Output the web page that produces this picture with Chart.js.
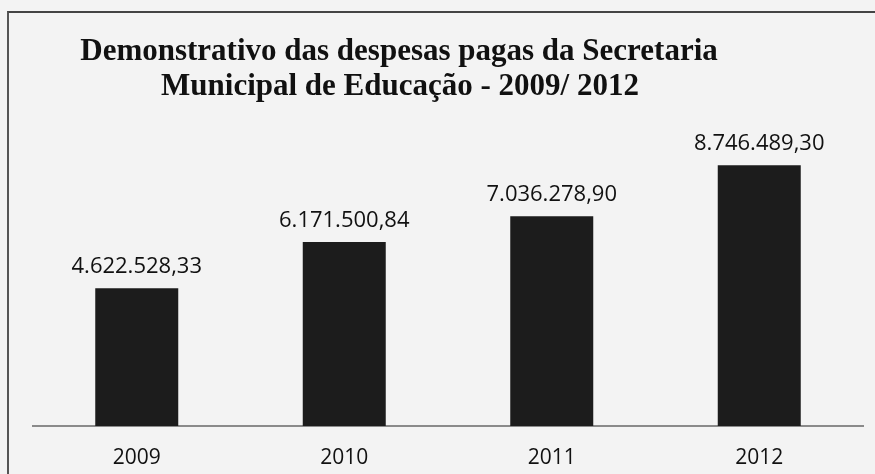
<!DOCTYPE html>
<html>
<head>
<meta charset="utf-8">
<script src="https://cdn.jsdelivr.net/npm/chart.js@4.4.1/dist/chart.umd.min.js"></script>
<style>
  html, body { margin: 0; padding: 0; background: #f3f3f3; }
  #wrap { position: relative; width: 875px; height: 474px; overflow: hidden; }
  #frame { position: absolute; left: 7px; top: 11px; width: 900px; height: 500px;
           border-left: 2px solid #555; border-top: 2px solid #444; pointer-events: none; }
  canvas { position: absolute; left: 0; top: 0; }
</style>
</head>
<body>
<div id="wrap">
  <canvas id="c" width="875" height="474"></canvas>
  <div id="frame"></div>
</div>
<script>
const categories = ['2009', '2010', '2011', '2012'];
const values = [4622528.33, 6171500.84, 7036278.90, 8746489.30];
const titleLines = ['Demonstrativo das despesas pagas da Secretaria', 'Municipal de Educação - 2009/ 2012'];
const yMax = 10000000;

function formatBR(v) {
  const parts = v.toFixed(2).split('.');
  const intPart = parts[0].replace(/\B(?=(\d{3})+(?!\d))/g, '.');
  return intPart + ',' + parts[1];
}

const titlePlugin = {
  id: 'customTitle',
  afterDraw(chart) {
    const ctx = chart.ctx;
    ctx.save();
    ctx.fillStyle = '#111';
    ctx.font = 'bold 31px "Liberation Serif", "Times New Roman", serif';
    ctx.textAlign = 'center';
    ctx.textBaseline = 'alphabetic';
    ctx.fillText(titleLines[0], 399, 60);
    ctx.fillText(titleLines[1], 400, 95);
    ctx.restore();
  }
};

const valueLabelPlugin = {
  id: 'valueLabels',
  afterDatasetsDraw(chart) {
    const ctx = chart.ctx;
    const meta = chart.getDatasetMeta(0);
    ctx.save();
    ctx.fillStyle = '#111';
    ctx.font = '22px "Open Sans", sans-serif';
    ctx.textAlign = 'center';
    ctx.textBaseline = 'alphabetic';
    meta.data.forEach((bar, i) => {
      ctx.fillText(formatBR(values[i]), bar.x, bar.y - 15);
    });
    ctx.restore();
  }
};

new Chart(document.getElementById('c'), {
  type: 'bar',
  data: {
    labels: categories,
    datasets: [{
      data: values,
      backgroundColor: '#1c1c1c',
      borderWidth: 0,
      categoryPercentage: 1.0,
      barPercentage: 0.4
    }]
  },
  options: {
    responsive: false,
    animation: false,
    devicePixelRatio: 1,
    layout: { padding: { left: 33, right: 12, top: 128, bottom: 0 } },
    plugins: {
      legend: { display: false },
      title: { display: false },
      tooltip: { enabled: false }
    },
    scales: {
      x: {
        grid: { display: false, drawTicks: false },
        border: { display: true, color: '#8a8a8a', width: 2 },
        ticks: {
          color: '#111',
          padding: 19,
          font: { family: '"Open Sans", sans-serif', size: 21 }
        },
        afterFit(scale) { scale.height = 48; }
      },
      y: {
        display: false,
        min: 0,
        max: yMax
      }
    }
  },
  plugins: [titlePlugin, valueLabelPlugin]
});
</script>
</body>
</html>
